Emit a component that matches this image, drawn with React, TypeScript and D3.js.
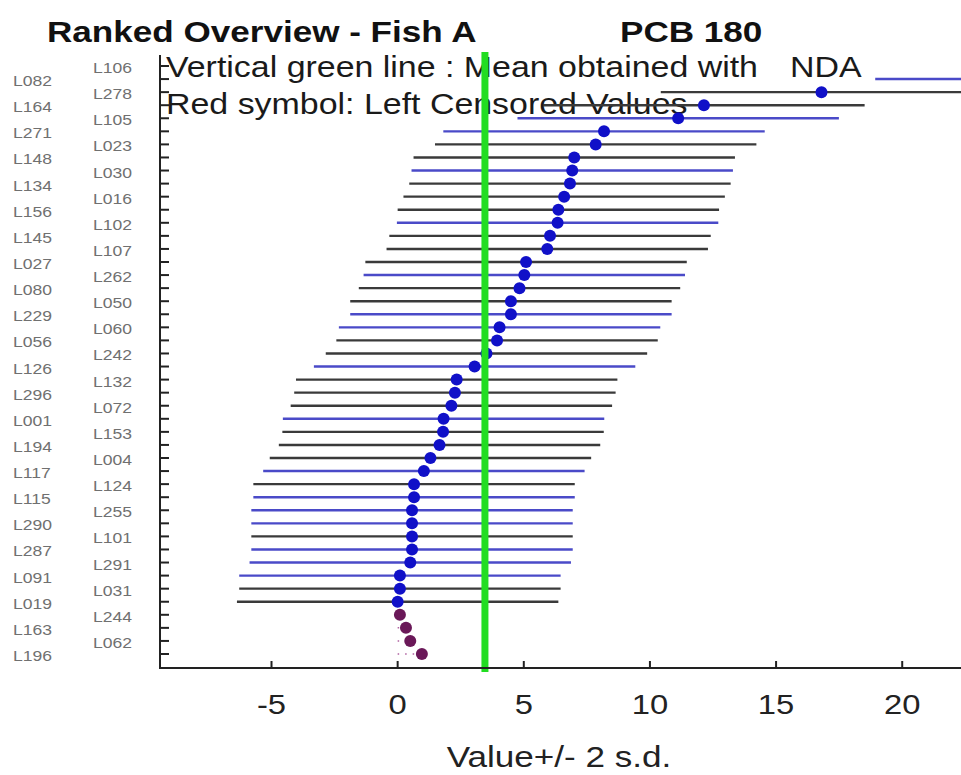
import React from "react";
import * as d3 from "d3";

const labs = ["L106","L082","L278","L164","L105","L271","L023","L148","L030","L134","L016","L156","L102","L145","L107","L027","L262","L080","L050","L229","L060","L056","L242","L126","L132","L296","L072","L001","L153","L194","L004","L117","L124","L115","L255","L290","L101","L287","L291","L091","L031","L019","L244","L163","L062","L196"];
const values = [32, 25.3, 16.8, 12.14, 11.12, 8.18, 7.85, 7.0, 6.92, 6.83, 6.6, 6.37, 6.34, 6.04, 5.93, 5.09, 5.02, 4.83, 4.49, 4.49, 4.04, 3.94, 3.52, 3.05, 2.34, 2.27, 2.13, 1.82, 1.8, 1.66, 1.3, 1.04, 0.65, 0.65, 0.57, 0.57, 0.57, 0.57, 0.5, 0.09, 0.09, 0.0, 0.09, 0.33, 0.5, 0.96];
const twoSd = 6.37;
const censored = [false,false,false,false,false,false,false,false,false,false,false,false,false,false,false,false,false,false,false,false,false,false,false,false,false,false,false,false,false,false,false,false,false,false,false,false,false,false,false,false,false,false,true,true,true,true];
const lineGroup = ["b","b","k","k","b","b","k","k","b","k","k","k","b","k","k","k","b","k","k","b","b","k","k","b","k","k","k","b","k","k","k","b","k","b","b","b","k","b","b","b","k","k","k","k","k","k"];
const meanNDA = 3.46;
const xTicks = [-5, 0, 5, 10, 15, 20];
const titleText = "Ranked Overview - Fish A";
const compoundText = "PCB 180";
const legend1 = "Vertical green line : Mean obtained with";
const legend1b = "NDA";
const legend2 = "Red symbol: Left Censored Values";
const xLabel = "Value+/- 2 s.d.";

const W = 961, H = 775;
const left = 160, right = 961, axisY = 668;
const SX = 1.17;
const FONT = "'Liberation Sans', Arial, sans-serif";

export default function App() {
  const x = d3.scaleLinear().domain([-9.42, 22.33]).range([left, right]);
  const y = d3.scalePoint<string>().domain(labs).range([66, 654]);
  const colors: Record<string, string> = { b: "#4a4ac8", k: "#3a3a3a" };
  const txt = (s: string, tx: number, ty: number, size: number, opts: any = {}) => (
    <text
      transform={`translate(${tx},${ty}) scale(${SX},1)`}
      fontFamily={FONT}
      fontSize={size}
      fill={opts.fill || "#1a1a1a"}
      fontWeight={opts.bold ? "bold" : "normal"}
      textAnchor={opts.anchor || "start"}
    >
      {s}
    </text>
  );
  return (
    <div style={{ position: "absolute", left: 0, top: 0 }}>
      <svg width={W} height={H} style={{ display: "block", background: "#fff" }}>
        <defs>
          <clipPath id="plotclip">
            <rect x={left} y={40} width={right - left} height={axisY - 40} />
          </clipPath>
        </defs>
        <rect x={0} y={0} width={W} height={H} fill="#fff" />
        {txt(titleText, 47, 42, 30, { bold: true, fill: "#111" })}
        {txt(compoundText, 620, 42, 30, { bold: true, fill: "#111" })}
        {txt(legend1, 166, 77, 29)}
        {txt(legend1b, 790, 77, 29)}
        {txt(legend2, 166, 114, 29)}
        {labs.map((l, i) => (
          <g key={"lab" + l}>
            {txt(l, i % 2 === 0 ? 93 : 13, (y(l) as number) + 7, 15, { fill: "#707070" })}
          </g>
        ))}
        <g clipPath="url(#plotclip)">
          {labs.map((l, i) =>
            censored[i] ? (
              <line
                key={"c" + l}
                x1={x(0)}
                x2={x(values[i])}
                y1={y(l) as number}
                y2={y(l) as number}
                stroke="#b060a0"
                strokeWidth={1.5}
                strokeDasharray="1.5,6"
              />
            ) : (
              <line
                key={"r" + l}
                x1={x(values[i] - twoSd)}
                x2={x(values[i] + twoSd)}
                y1={y(l) as number}
                y2={y(l) as number}
                stroke={colors[lineGroup[i]]}
                strokeWidth={2.4}
              />
            )
          )}
          {labs.map((l, i) => (
            <circle
              key={"d" + l}
              cx={x(values[i])}
              cy={y(l) as number}
              r={6}
              fill={censored[i] ? "#6a1858" : "#1010c8"}
            />
          ))}
        </g>
        <line x1={x(meanNDA)} x2={x(meanNDA)} y1={52} y2={672} stroke="#22dd22" strokeWidth={7} />
        <line x1={left} x2={left} y1={55} y2={axisY} stroke="#222" strokeWidth={2} />
        <line x1={left - 1} x2={right} y1={axisY} y2={axisY} stroke="#222" strokeWidth={2} />
        {labs.map((l) => (
          <line key={"yt" + l} x1={left} x2={left + 9} y1={y(l) as number} y2={y(l) as number} stroke="#222" strokeWidth={2} />
        ))}
        {xTicks.map((t) => (
          <g key={"xt" + t}>
            <line x1={x(t)} x2={x(t)} y1={axisY} y2={axisY - 7} stroke="#222" strokeWidth={2} />
            {txt(String(t), x(t), 714, 28, { anchor: "middle", fill: "#222" })}
          </g>
        ))}
        {txt(xLabel, 559, 767, 30, { anchor: "middle", fill: "#222" })}
      </svg>
    </div>
  );
}
